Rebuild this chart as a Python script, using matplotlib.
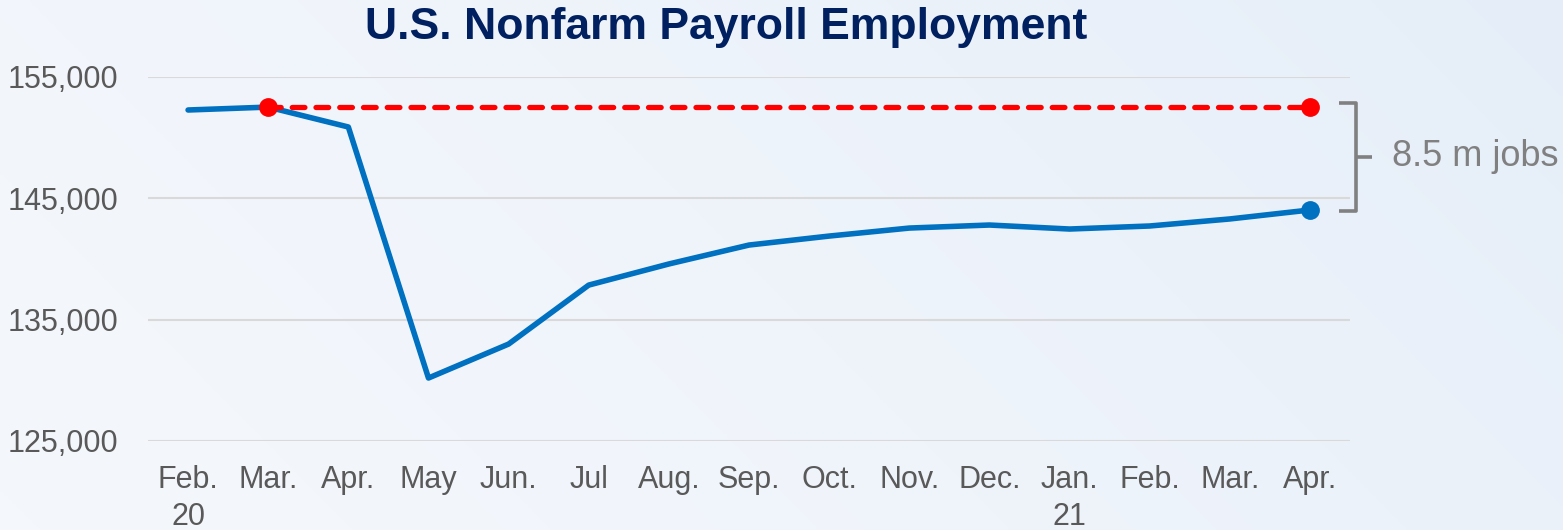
import matplotlib
matplotlib.use("Agg")
import matplotlib.pyplot as plt
import numpy as np

months = ["Feb.\n20", "Mar.", "Apr.", "May", "Jun.", "Jul", "Aug.", "Sep.", "Oct.",
          "Nov.", "Dec.", "Jan.\n21", "Feb.", "Mar.", "Apr."]
payroll = [152280, 152520, 150880, 130190, 132990, 137850, 139590, 141150, 141890,
           142550, 142800, 142470, 142720, 143300, 144040]
pre_level = 152520
yticks = [125000, 135000, 145000, 155000]
gap_label = "8.5 m jobs"

plt.rcParams['font.family'] = ['Liberation Sans', 'DejaVu Sans']

fig = plt.figure(figsize=(15.63, 5.30), dpi=100)

# background gradient
bg = fig.add_axes([0, 0, 1, 1], zorder=-10)
xx, yy = np.meshgrid(np.linspace(0, 1, 400), np.linspace(0, 1, 200))
t = np.clip(0.75 * xx + 0.25 * (1 - yy), 0, 1) ** 1.5
c0 = np.array([0.957, 0.969, 0.988])
c1 = np.array([0.898, 0.933, 0.973])
img = c0[None, None, :] * (1 - t[..., None]) + c1[None, None, :] * t[..., None]
bg.imshow(img, aspect='auto', extent=[0, 1, 0, 1], origin='upper')
bg.axis('off')

ax = fig.add_axes([148 / 1563, 1 - 441 / 530, (1350 - 148) / 1563, (441 - 77) / 530])
ax.patch.set_alpha(0)
x = np.arange(len(months))

ax.plot(x, payroll, color='#0070C0', lw=4.0, solid_capstyle='round', zorder=3)
ax.plot([x[-1]], [payroll[-1]], 'o', color='#0070C0', ms=12.5, zorder=4)
ax.plot([x[1], x[-1]], [pre_level, pre_level], color='#FF0000', lw=3.8,
        dashes=(2.4, 2.1), dash_capstyle='round', zorder=5)
ax.plot([x[1], x[-1]], [pre_level, pre_level], 'o', color='#FF0000', ms=12.5, zorder=6)

ax.set_xlim(-0.5, len(months) - 0.5)
ax.set_ylim(125000, 155000)
ax.set_yticks(yticks)
ax.set_yticklabels([f"{v:,}" for v in yticks])
ax.set_xticks(x)
ax.set_xticklabels(months, linespacing=1.3)
ax.grid(axis='y', color='#D9D9D9', lw=1.5)
ax.set_axisbelow(True)
for s in ax.spines.values():
    s.set_visible(False)
ax.tick_params(axis='both', length=0, labelsize=22, labelcolor='#595959')
ax.tick_params(axis='y', pad=21.6)
ax.tick_params(axis='x', pad=17.5)

# bracket
top = pre_level + 350
bot = payroll[-1] - 80
xb, xl, xr = 14.57, 14.36, 14.77
mid = (top + bot) / 2
kw = dict(color='#808080', lw=2.6, clip_on=False, solid_capstyle='butt', zorder=2)
ax.plot([xl, xb, xb, xl], [top, top, bot, bot], **kw)
ax.plot([xb, xr], [mid, mid], **kw)
ax.text(15.02, mid, gap_label, fontsize=26, color='#808080', va='center', ha='left')

fig.text(726 / 1563, 1 - 27 / 530, "U.S. Nonfarm Payroll Employment", fontsize=32,
         fontweight='bold', color='#002060', ha='center', va='center')

fig.savefig("out.png", dpi=100)
